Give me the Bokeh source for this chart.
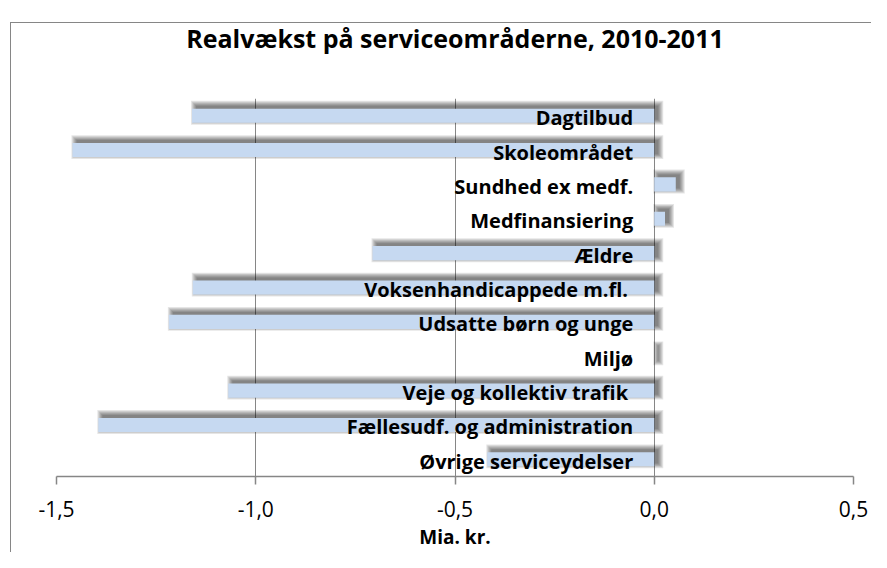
from bokeh.plotting import figure
from bokeh.models import Range1d, FixedTicker, ColumnDataSource, Title
from bokeh.core.properties import value
from bokeh.embed import file_html
from bokeh.resources import INLINE

CATEGORIES = ["Dagtilbud", "Skoleområdet", "Sundhed ex medf.", "Medfinansiering",
              "Ældre", "Voksenhandicappede  m.fl.", "Udsatte børn og unge", "Miljø",
              "Veje og kollektiv  trafik", "Fællesudf. og administration",
              "Øvrige serviceydelser"]
VALUES = [-1.16, -1.46, 0.054, 0.027, -0.707, -1.158, -1.218, 0.0, -1.069, -1.395, -0.419]
TICKS = [-1.5, -1.0, -0.5, 0.0, 0.5]
TICK_LABELS = ["-1,5", "-1,0", "-0,5", "0,0", "0,5"]
TITLE = "Realvækst på serviceområderne, 2010-2011"
XLABEL = "Mia. kr."

FONT = "Open Sans"
GRID = "#868686"
BAR = "#c6d9f1"

n = len(CATEGORIES)
ys = [n - 1 - i for i in range(n)]

W, H = 871, 552
ML, MR, MT, MB = 56, 18, 98, 66

p = figure(width=W, height=H, x_range=Range1d(-1.5, 0.5), y_range=Range1d(-0.5, n - 0.5),
           output_backend="svg", toolbar_location=None, y_axis_location=None, title=None,
           min_border_left=ML, min_border_right=MR, min_border_top=MT, min_border_bottom=MB)
p.outline_line_color = None
p.background_fill_color = "white"
p.border_fill_color = "white"
p.border_fill_alpha = 0
# chart-area border (left and top edges) painted behind the transparent canvas
p.styles = {
    "background-color": "white",
    "background-image": "linear-gradient(#868686,#868686), linear-gradient(#868686,#868686)",
    "background-position": "10px 22px, 10px 22px",
    "background-size": "1px 100%, 100% 1px",
    "background-repeat": "no-repeat",
}

# spacer between title and plot area, then the title itself (outermost)
spacer = Title(text=" ", text_font_size="1px", standoff=36)
p.add_layout(spacer, "above")
title = Title(text=TITLE, align="center", text_font=FONT, text_font_style="bold",
              text_font_size="25px", text_color="black", standoff=10)
p.add_layout(title, "above")

# soft drop shadow of the bars (offset up-right), derived from the values
frame_w = W - ML - MR
frame_h = H - MT - MB
px_x = 2.0 / frame_w
px_y = n / frame_h
h = 0.41
layers = 6
for k in range(layers):
    lefts = [min(v, 0) + (4 - k) * px_x for v in VALUES]
    rights = [max(v, 0) + (4 + k) * px_x for v in VALUES]
    p.hbar(y=[y + 3 * px_y for y in ys], left=lefts, right=rights,
           height=h + 2 * k * px_y, fill_color="black", fill_alpha=0.1, line_color=None)

src = ColumnDataSource(dict(y=ys, cat=CATEGORIES,
                            left=[min(v, 0) for v in VALUES], right=[max(v, 0) for v in VALUES]))
p.hbar(y="y", left="left", right="right", height=h, source=src, fill_color=BAR, line_color=None)

p.text(x=0, y="y", text="cat", source=src, x_offset=-21, y_offset=2, text_align="right",
       text_baseline="middle", text_font=value(FONT), text_font_style="bold",
       text_font_size="20px", text_color="black")

p.xgrid.ticker = FixedTicker(ticks=TICKS)
p.xgrid.grid_line_color = GRID
p.xgrid.grid_line_width = 1
p.ygrid.grid_line_color = None

ax = p.xaxis[0]
ax.ticker = FixedTicker(ticks=TICKS)
ax.major_label_overrides = dict(zip(TICKS, TICK_LABELS))
ax.major_label_text_font = FONT
ax.major_label_text_font_size = "21px"
ax.major_label_text_color = "black"
ax.major_label_standoff = 16
ax.axis_line_color = GRID
ax.axis_line_width = 1.5
ax.major_tick_line_color = GRID
ax.major_tick_line_width = 1.5
ax.major_tick_out = 8
ax.major_tick_in = 0
ax.minor_tick_line_color = None
ax.axis_label = XLABEL
ax.axis_label_text_font = FONT
ax.axis_label_text_font_style = "bold"
ax.axis_label_text_font_size = "19px"
ax.axis_label_text_color = "black"
ax.axis_label_standoff = 4

open("out.html", "w").write(file_html(p, INLINE))
